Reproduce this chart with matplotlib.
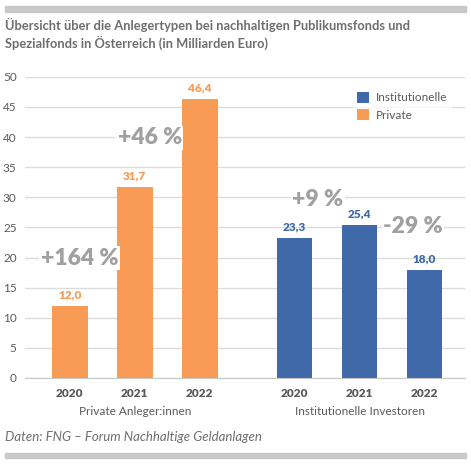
import matplotlib.pyplot as plt
import numpy as np

plt.rcParams['font.family'] = ['Lato', 'DejaVu Sans']

# Daten
jahre = ['2020', '2021', '2022']
private = [12.0, 31.7, 46.4]
institutionelle = [23.3, 25.4, 18.0]
gruppen = ['Private Anleger:innen', 'Institutionelle Investoren']
wachstum_private = ['+164 %', '+46 %']
wachstum_inst = ['+9 %', '-29 %']

orange = '#F79B55'
blau = '#3F69A8'
grau_text = '#5a5a5a'
grau_pct = '#a0a0a0'

fig = plt.figure(figsize=(4.71, 4.66), dpi=100)
ax = fig.add_axes([0.053, 0.189, 0.934, 0.646])

x_priv = np.arange(3)
x_inst = np.arange(3) + 3.46
breite = 0.55

ax.bar(x_priv, private, width=breite, color=orange, label='Private', zorder=2)
ax.bar(x_inst, institutionelle, width=breite, color=blau, label='Institutionelle', zorder=2)

# Werte über den Balken
for x, v in zip(x_priv, private):
    ax.annotate(f'{v:.1f}'.replace('.', ','), (x, v), textcoords='offset points',
                xytext=(0, 4), ha='center', va='bottom', fontsize=8.5, fontweight='heavy', color=orange)
for x, v in zip(x_inst, institutionelle):
    ax.annotate(f'{v:.1f}'.replace('.', ','), (x, v), textcoords='offset points',
                xytext=(0, 4), ha='center', va='bottom', fontsize=8.5, fontweight='heavy', color=blau)

# Wachstumsraten
box = dict(facecolor='white', edgecolor='none', pad=1)
pct = dict(ha='center', va='center', fontsize=16.5, fontweight='heavy', color=grau_pct,
           bbox=box, zorder=3)
ax.text(0.15, 19.9, wachstum_private[0], **pct)
ax.text(1.23, 39.9, wachstum_private[1], **pct)
ax.text(3.82, 29.7, wachstum_inst[0], **pct)
ax.text(5.28, 25.1, wachstum_inst[1], **pct)

# Achsen
ax.set_xlim(-0.69, 6.08)
ax.set_ylim(0, 50)
ax.set_yticks(range(0, 55, 5))
ax.set_xticks(list(x_priv) + list(x_inst))
ax.set_xticklabels(jahre + jahre, fontsize=8.5, fontweight='heavy', color=grau_text)
ax.tick_params(axis='y', labelsize=8.5, colors=grau_text, length=0, pad=6)
ax.tick_params(axis='x', length=0, pad=7)
ax.grid(axis='y', color='#dcdcdc', linewidth=1, zorder=0)
for s in ['top', 'right', 'left']:
    ax.spines[s].set_visible(False)
ax.spines['bottom'].set_color('#c8c8c8')

# Gruppenbeschriftungen
ax.text(x_priv.mean(), -0.11, gruppen[0], transform=ax.get_xaxis_transform(),
        ha='center', va='center', fontsize=8.5, color=grau_text)
ax.text(x_inst.mean(), -0.11, gruppen[1], transform=ax.get_xaxis_transform(),
        ha='center', va='center', fontsize=8.5, color=grau_text)

# Legende
handles, labels = ax.get_legend_handles_labels()
leg = ax.legend(handles[::-1], labels[::-1], loc='upper right', bbox_to_anchor=(0.985, 0.985),
                frameon=True, facecolor='white', edgecolor='none', fontsize=8.5,
                handlelength=1.0, handleheight=1.0, labelspacing=0.5, borderpad=0.4,
                handletextpad=0.6)
for t in leg.get_texts():
    t.set_color(grau_text)

# Titel und Quelle
fig.patches.append(plt.Rectangle((0.011, 0.974), 0.978, 0.013, transform=fig.transFigure,
                                 color='#c8c8c8', zorder=0))
fig.patches.append(plt.Rectangle((0.011, 0.017), 0.978, 0.011, transform=fig.transFigure,
                                 color='#c8c8c8', zorder=0))
fig.text(0.011, 0.962, 'Übersicht über die Anlegertypen bei nachhaltigen Publikumsfonds und\n'
         'Spezialfonds in Österreich (in Milliarden Euro)', ha='left', va='top',
         fontsize=9.3, fontweight='bold', color='#6e6e6e', linespacing=1.35)
fig.text(0.011, 0.062, 'Daten: FNG – Forum Nachhaltige Geldanlagen', ha='left', va='center',
         fontsize=9.5, style='italic', color='#6e6e6e')

plt.savefig('out.png', dpi=100)
